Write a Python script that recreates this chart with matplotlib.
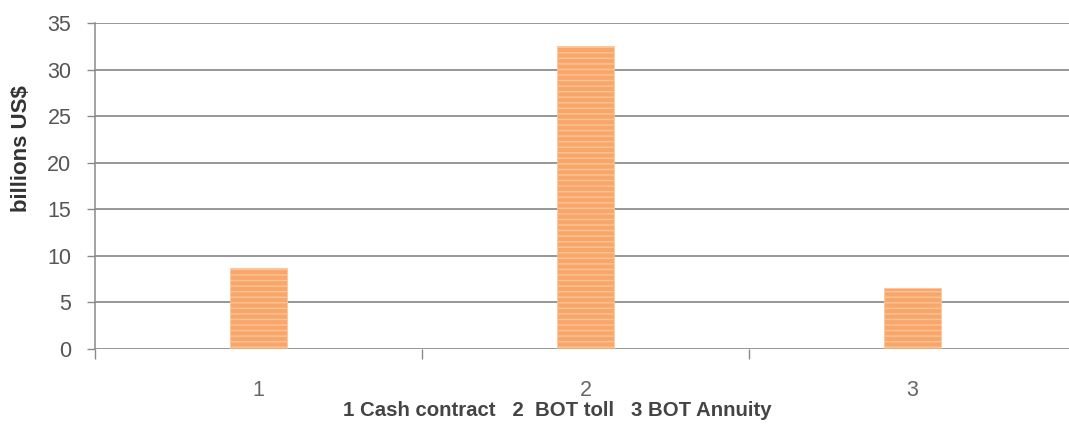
import matplotlib.pyplot as plt
import numpy as np

# data (billions US$)
categories = ['1', '2', '3']
values = [8.7, 32.5, 6.5]
yticks = [0, 5, 10, 15, 20, 25, 30, 35]

fig = plt.figure(figsize=(10.69, 4.26), dpi=100)
ax = fig.add_axes([0.0889, 0.1808, 0.9177, 0.7653])

x = np.arange(1, len(categories) + 1)
ax.bar(x, values, width=0.175, color='#F8A66A', edgecolor='#FBC497',
       linewidth=0.5, hatch='---', zorder=3)

ax.set_xlim(0.5, 3.5)
ax.set_ylim(0, 35)
ax.set_yticks(yticks)
ax.set_xticks(x)
ax.set_xticklabels(categories)
ax.set_xticks(np.arange(0.5, 3.6, 1), minor=True)

ax.grid(axis='y', color='#7a7a7a', linewidth=1.1, zorder=0)
for s in ['top', 'right', 'bottom']:
    ax.spines[s].set_visible(False)
ax.spines['left'].set_color('#8a8a8a')
ax.spines['left'].set_linewidth(1.1)

ax.tick_params(axis='y', direction='out', length=6, width=1, color='#8a8a8a',
               labelsize=15.5, labelcolor='#555555', pad=11)
ax.tick_params(axis='x', which='major', length=0, labelsize=15.5,
               labelcolor='#666666', pad=22)
ax.tick_params(axis='x', which='minor', direction='out', length=7, width=1,
               color='#8a8a8a')
for lab in ax.get_xticklabels() + ax.get_yticklabels():
    lab.set_family('Liberation Sans')

fig.text(22 / 1069, 1 - 149 / 426, 'billions US$', rotation=90,
         ha='center', va='center', fontsize=16, fontweight='bold',
         family='Liberation Sans', color='#333333')
fig.text(557 / 1069, 1 - 410 / 426,
         '1 Cash contract   2  BOT toll   3 BOT Annuity',
         ha='center', va='center', fontsize=14.7, fontweight='bold',
         family='Liberation Sans', color='#444444')

plt.savefig('out.png', dpi=100)
